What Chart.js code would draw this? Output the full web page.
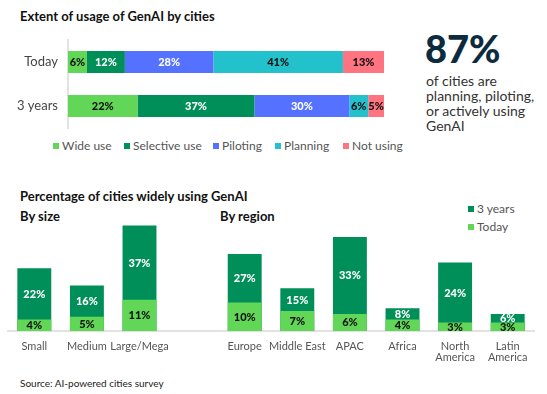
<!DOCTYPE html>
<html>
<head>
<meta charset="utf-8">
<script src="https://cdn.jsdelivr.net/npm/chart.js@4.4.0/dist/chart.umd.min.js"></script>
<style>
  html, body { margin:0; padding:0; background:#fff; }
  body { width:547px; height:394px; position:relative; overflow:hidden; font-family:"Lato", sans-serif; color:#222; }
  .abs { position:absolute; white-space:nowrap; }
  .h { font-weight:700; font-size:13px; color:#111; }
  #big { left:425px; top:25px; font-size:38px; font-weight:900; color:#0d2b3e; }
  #sub { left:426px; top:73px; font-size:14px; line-height:15px; color:#333; }
  .lg { font-size:12px; color:#555; }
  .sq { display:inline-block; width:6px; height:6px; margin-right:3px; vertical-align:1px; }
  canvas { position:absolute; }
</style>
</head>
<body>
<div class="abs h" style="left:20px; top:8px;">Extent of usage of GenAI by cities</div>
<div class="abs" id="big">87%</div>
<div class="abs" id="sub">of cities are<br>planning, piloting,<br>or actively using<br>GenAI</div>
<div id="topLegend"></div>
<div class="abs h" style="left:20px; top:188px;">Percentage of cities widely using GenAI</div>
<div class="abs h" style="left:20px; top:208px;">By size</div>
<div class="abs h" style="left:220px; top:208px;">By region</div>
<div class="abs lg" style="left:468px; top:201px;"><span class="sq" style="background:#008f58"></span>3 years</div>
<div class="abs lg" style="left:468px; top:219px;"><span class="sq" style="background:#62d656"></span>Today</div>
<div class="abs" style="left:20px; top:377px; font-size:10px; color:#222;">Source: AI-powered cities survey</div>

<div style="position:absolute; left:0; top:0; width:410px; height:160px;"><canvas id="top"></canvas></div>
<div style="position:absolute; left:0; top:200px; width:547px; height:170px;"><canvas id="bottom"></canvas></div>

<script>
// ---- Data: top chart ----
const usageCategories = ["Today", "3 years"];
const usageSeries = ["Wide use", "Selective use", "Piloting", "Planning", "Not using"];
const wideUse      = [6, 22];
const selectiveUse = [12, 37];
const piloting     = [28, 30];
const planning     = [41, 6];
const notUsing     = [13, 5];

// ---- Data: bottom chart ----
const groupCategories = ["Small", "Medium", "Large/Mega", "", "Europe", "Middle East", "APAC", "Africa", ["North", "America"], ["Latin", "America"]];
const todayValues     = [4, 5, 11, null, 10, 7, 6, 4, 3, 3];
const threeYearValues = [22, 16, 37, null, 27, 15, 33, 8, 24, 6];

const C = {
  wide: "#62d656", selective: "#008f58", piloting: "#5472ff", planning: "#22c1cc", not: "#ff7480"
};
const seriesColors = [C.wide, C.selective, C.piloting, C.planning, C.not];
const FONT = "Lato, sans-serif";

// HTML legend for the top chart
const legendLefts = [53, 124, 213, 275, 343];
document.getElementById("topLegend").innerHTML = usageSeries.map((s, i) =>
  `<div class="abs lg" style="left:${legendLefts[i]}px; top:138px;"><span class="sq" style="background:${seriesColors[i]}"></span>${s}</div>`
).join("");

const topLabels = {
  id: "topLabels",
  afterDatasetsDraw(chart) {
    const ctx = chart.ctx;
    ctx.save();
    ctx.font = "900 11px " + FONT;
    ctx.textAlign = "center";
    ctx.textBaseline = "middle";
    chart.data.datasets.forEach((ds, di) => {
      const meta = chart.getDatasetMeta(di);
      meta.data.forEach((el, i) => {
        const p = el.getCenterPoint();
        ctx.fillStyle = ds.labelColor;
        ctx.fillText(ds.data[i] + "%", p.x, p.y + 0.5);
      });
    });
    ctx.restore();
  }
};

const labelColors = ["#111", "#fff", "#fff", "#111", "#111"];
const seriesData = [wideUse, selectiveUse, piloting, planning, notUsing];

new Chart(document.getElementById("top"), {
  type: "bar",
  data: {
    labels: usageCategories,
    datasets: usageSeries.map((s, i) => ({
      label: s, data: seriesData[i], backgroundColor: seriesColors[i], labelColor: labelColors[i],
      borderWidth: 0, barPercentage: 1, categoryPercentage: 0.5
    }))
  },
  options: {
    indexAxis: "y",
    responsive: true,
    maintainAspectRatio: false,
    animation: false,
    layout: { padding: { left: 0, right: 26, top: 40, bottom: 32 } },
    scales: {
      x: { stacked: true, min: 0, max: 100, display: false },
      y: {
        stacked: true,
        afterFit: s => { s.width = 68; },
        grid: { display: false },
        border: { display: true, color: "#e2e2e2", width: 2 },
        ticks: { color: "#444", font: { family: FONT, size: 13 }, padding: 2 }
      }
    },
    plugins: { legend: { display: false }, tooltip: { enabled: false } }
  },
  plugins: [topLabels]
});

const bottomLabels = {
  id: "bottomLabels",
  afterDatasetsDraw(chart) {
    const ctx = chart.ctx;
    const y = chart.scales.y;
    const metaToday = chart.getDatasetMeta(0);
    ctx.save();
    ctx.font = "900 11px " + FONT;
    ctx.textAlign = "center";
    ctx.textBaseline = "middle";
    todayValues.forEach((t, i) => {
      if (t == null) return;
      const x = metaToday.data[i].x;
      const y0 = y.getPixelForValue(0), yt = y.getPixelForValue(t), y3 = y.getPixelForValue(threeYearValues[i]);
      ctx.fillStyle = "#111";
      ctx.fillText(t + "%", x, (y0 + yt) / 2 + 0.5);
      ctx.fillStyle = "#fff";
      ctx.fillText(threeYearValues[i] + "%", x, (yt + y3) / 2 + 0.5);
    });
    ctx.restore();
  }
};

new Chart(document.getElementById("bottom"), {
  type: "bar",
  data: {
    labels: groupCategories,
    datasets: [
      { label: "Today", data: todayValues, backgroundColor: C.wide },
      { label: "3 years", data: threeYearValues, backgroundColor: C.selective }
    ].map(d => Object.assign(d, { borderWidth: 0, barPercentage: 0.645, categoryPercentage: 1, grouped: false }))
  },
  options: {
    responsive: true,
    maintainAspectRatio: false,
    animation: false,
    layout: { padding: { left: 8, right: 13, top: 17, bottom: 0 } },
    scales: {
      y: { display: false, min: 0, max: 40 },
      x: {
        afterFit: s => { s.height = 39; },
        grid: { display: false },
        border: { display: true, color: "#e2e2e2", width: 2 },
        ticks: { color: "#555", font: { family: FONT, size: 11, lineHeight: 1 }, padding: 2, autoSkip: false, maxRotation: 0 }
      }
    },
    plugins: { legend: { display: false }, tooltip: { enabled: false } }
  },
  plugins: [bottomLabels]
});
</script>
</body>
</html>
